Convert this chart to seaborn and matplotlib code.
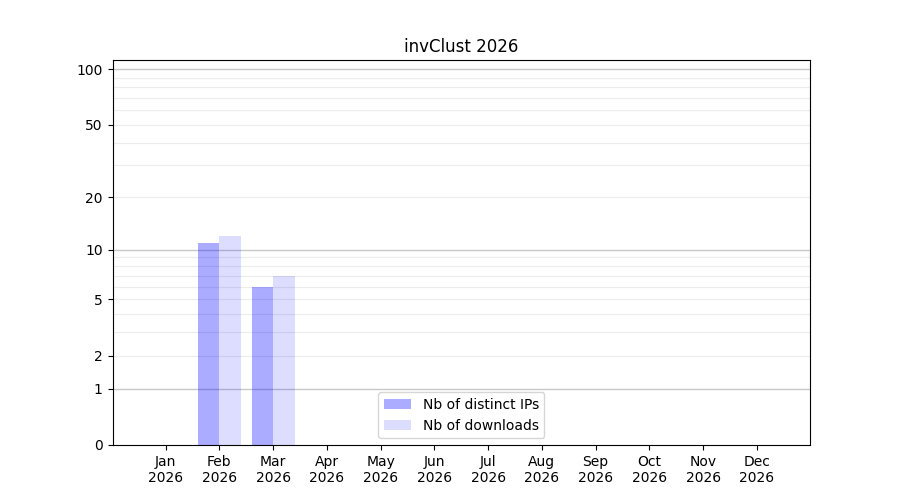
import numpy as np
import pandas as pd
import seaborn as sns
import matplotlib
matplotlib.use('Agg')
import matplotlib.pyplot as plt
from matplotlib.ticker import FixedLocator, NullFormatter

# monthly stats for the year
months = ['Jan', 'Feb', 'Mar', 'Apr', 'May', 'Jun',
          'Jul', 'Aug', 'Sep', 'Oct', 'Nov', 'Dec']
year = '2026'
distinct_ips = [0, 11, 6, 0, 0, 0, 0, 0, 0, 0, 0, 0]
downloads = [0, 12, 7, 0, 0, 0, 0, 0, 0, 0, 0, 0]
series_names = ['Nb of distinct IPs', 'Nb of downloads']

y_ticks = [0, 1, 2, 5, 10, 20, 50, 100]
grid_major = [1, 10, 100]
grid_minor = [2, 3, 4, 5, 6, 7, 8, 9, 20, 30, 40, 50, 60, 70, 80, 90]

df = pd.DataFrame({'month': months,
                   series_names[0]: distinct_ips,
                   series_names[1]: downloads})
df_long = df.melt(id_vars='month', var_name='serie', value_name='count')

fig, ax = plt.subplots(figsize=(9, 5), dpi=100)

# grid first so the transparent bars sit on top
for v in grid_minor:
    ax.axhline(v, color='#ececec', lw=0.8, zorder=0)
for v in grid_major:
    ax.axhline(v, color='#c8c8c8', lw=1.0, zorder=0)

sns.barplot(data=df_long, x='month', y='count', hue='serie',
            palette=['blue', 'blue'], saturation=1, linewidth=0,
            legend=False, ax=ax)

# lighter shade for downloads
for cont, a in zip(ax.containers, [0.33, 0.135]):
    for p in cont:
        p.set_alpha(a)

# log(1 + x) scale so that 0 fits on the axis
ax.set_yscale('function', functions=(lambda x: np.log10(1 + np.clip(x, 0, None)),
                                     lambda y: 10 ** y - 1))
ax.set_ylim(0, 112)
ax.yaxis.set_major_locator(FixedLocator(y_ticks))
ax.set_yticklabels([str(t) for t in y_ticks])
ax.yaxis.set_minor_locator(FixedLocator([]))
ax.yaxis.set_minor_formatter(NullFormatter())

ax.set_xlim(-0.99, 11.99)
ax.set_xticks(range(len(months)))
ax.set_xticklabels([m + '\n' + year for m in months])
ax.set_xlabel('')
ax.set_ylabel('')

ax.set_title('invClust ' + year)
ax.legend(ax.containers, series_names, loc='lower center')

fig.savefig('out.png', dpi=100)
